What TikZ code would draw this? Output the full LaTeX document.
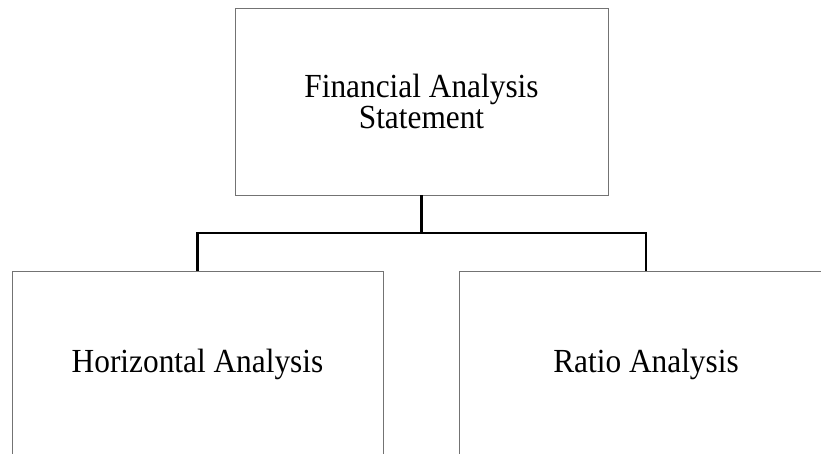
\documentclass[tikz,border=0pt]{standalone}
\usepackage{fontspec}
\setmainfont{Liberation Serif}[FakeStretch=0.93]
\begin{document}
\begin{tikzpicture}[x=1pt,y=1pt,
  box/.style={draw=black!55, line width=0.9pt, fill=white, inner sep=0pt,
    align=center, font=\fontsize{33.7}{29}\selectfont},
  conn/.style={draw=black, line width=2.6pt}]
\useasboundingbox (0,0) rectangle (821,454);
\clip (0,0) rectangle (821,454);
\fill[white] (0,0) rectangle (821,454);
\node[box, minimum width=373pt, minimum height=187pt] (top) at (421.5,352.5) {Financial Analysis\\Statement};
\node[box, minimum width=371pt, minimum height=186pt] (left) at (197.5,90) {Horizontal Analysis};
\node[box, minimum width=374pt, minimum height=186pt] (right) at (646,90) {Ratio Analysis};
\coordinate (j) at (421.5,221);
\draw[conn] (top.south) -- (j);
\draw[conn] (left.north) |- (j) -| (right.north);
\end{tikzpicture}
\end{document}
